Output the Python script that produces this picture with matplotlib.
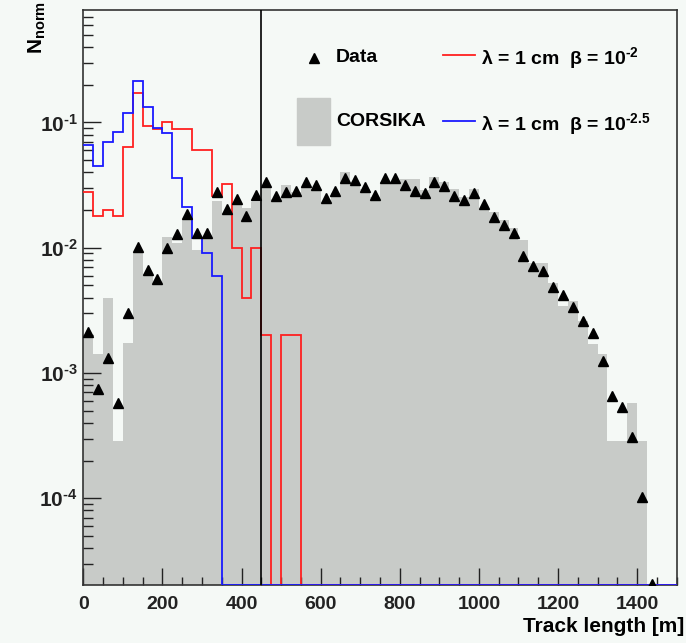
import numpy as np
import matplotlib
matplotlib.use("Agg")
import matplotlib.pyplot as plt
from matplotlib.patches import Rectangle
from matplotlib.lines import Line2D
from matplotlib.ticker import LogLocator, MultipleLocator, FuncFormatter

plt.rcParams["font.family"] = ["Liberation Sans", "DejaVu Sans"]
plt.rcParams["font.weight"] = "bold"
plt.rcParams["mathtext.fontset"] = "custom"
plt.rcParams["mathtext.rm"] = "Liberation Sans:bold"
plt.rcParams["mathtext.bf"] = "Liberation Sans:bold"
plt.rcParams["mathtext.it"] = "Liberation Sans:bold"
plt.rcParams["axes.unicode_minus"] = False

# 25 m bins of track length
bin_width = 25
x_max = 1500

# CORSIKA simulation (normalised)
corsika = [0.00196, 0.00143, 0.00394, 0.000288, 0.00172, 0.0092, 0.0062, 0.0050,
           0.0122, 0.0109, 0.0171, 0.0096, 0.0122, 0.0236, 0.0188, 0.0226,
           0.0206, 0.0232, 0.0303, 0.0247, 0.0314, 0.0279, 0.0303, 0.0297,
           0.0226, 0.0271, 0.0401, 0.0326, 0.0297, 0.0254, 0.0334, 0.0334,
           0.0353, 0.0353, 0.0288, 0.0364, 0.0336, 0.0297, 0.0255, 0.0292,
           0.0200, 0.0194, 0.0166, 0.0143, 0.0116, 0.0076, 0.0075, 0.0052,
           0.00342, 0.00377, 0.0026, 0.0017, 0.00143, 0.000286, 0.000286,
           0.000571, 0.000286]

# measured data (normalised)
data = [0.00211, 0.000745, 0.00131, 0.000578, 0.00302, 0.0102, 0.0067, 0.0056,
        0.0100, 0.0129, 0.0185, 0.0130, 0.0131, 0.0279, 0.0203, 0.0247,
        0.0180, 0.0263, 0.0332, 0.0258, 0.0279, 0.0284, 0.0332, 0.0318,
        0.0250, 0.0284, 0.0357, 0.0347, 0.0306, 0.0265, 0.0359, 0.0359,
        0.0316, 0.0284, 0.0271, 0.0334, 0.0310, 0.0258, 0.0240, 0.0274,
        0.0223, 0.0177, 0.0151, 0.0130, 0.00857, 0.00713, 0.00654, 0.00482,
        0.00419, 0.00335, 0.00259, 0.00207, 0.00124, 0.000654, 0.000531,
        0.000306, 0.000102, 0.0000205]

# signal, lambda = 1 cm, beta = 1e-2
sig_red = [0.028, 0.018, 0.020, 0.018, 0.064, 0.172, 0.094, 0.088, 0.100,
           0.088, 0.088, 0.060, 0.060, 0.026, 0.032, 0.010, 0.004, 0.010,
           0.002, 0.0, 0.002, 0.002] + [0.0] * 38

# signal, lambda = 1 cm, beta = 1e-2.5
sig_blue = [0.0659, 0.045, 0.070, 0.084, 0.120, 0.215, 0.132, 0.0896,
            0.0817, 0.0361, 0.0212, 0.0120, 0.0091, 0.0060] + [0.0] * 46

cut_length = 450

y_min, y_max = 2.02e-5, 0.79
bg = "#f5f9f6"
grey = "#c8cbc8"
HY = "\u2010"  # short hyphen for exponents

fig = plt.figure(figsize=(6.86, 6.43), dpi=100, facecolor=bg)
ax = fig.add_axes([83.3 / 686, 1 - 585.3 / 643, (676.7 - 83.3) / 686, (585.3 - 10) / 643])
ax.set_facecolor(bg)
ax.set_yscale("log")

edges_sim = np.arange(len(corsika) + 1) * bin_width
ax.stairs(corsika, edges_sim, fill=True, color=grey, baseline=1e-7, zorder=1)

edges = np.arange(0, x_max + bin_width, bin_width)
red = np.where(np.array(sig_red) > 0, sig_red, y_min)
blue = np.where(np.array(sig_blue) > 0, sig_blue, y_min)
ax.stairs(red, edges, color="#ff2020", lw=1.3, baseline=None, zorder=3)
ax.stairs(blue, edges, color="#1a1aff", lw=1.3, baseline=None, zorder=4)

centers = (np.arange(len(data)) + 0.5) * bin_width
ax.plot(centers, data, "^", color="black", ms=7.5, zorder=5)

ax.axvline(cut_length, color="black", lw=1.2, zorder=6)

ax.set_xlim(0, x_max)
ax.set_ylim(y_min, y_max)
ax.xaxis.set_major_locator(MultipleLocator(200))
ax.xaxis.set_minor_locator(MultipleLocator(50))
ax.yaxis.set_major_locator(LogLocator(base=10, numticks=10))
ax.yaxis.set_minor_locator(LogLocator(base=10, subs=np.arange(2, 10), numticks=20))
ax.yaxis.set_major_formatter(FuncFormatter(
    lambda v, pos: r"10$^{\mathdefault{%s%d}}$" % (HY, -round(np.log10(v)))))
ax.tick_params(which="both", direction="in", top=False, right=False,
               colors="#222222", width=1.0, labelsize=14)
ax.tick_params(axis="x", which="major", length=12, pad=8)
ax.tick_params(axis="x", which="minor", length=5.5)
ax.tick_params(axis="y", which="major", length=13, pad=4, labelsize=15)
ax.tick_params(axis="y", which="minor", length=7)
for s in ax.spines.values():
    s.set_linewidth(1.2)
    s.set_color("#333333")

# legend drawn by hand in pixel positions
def fx(px):
    return px / 686

def fy(py):
    return 1 - py / 643

fig.add_artist(Line2D([fx(314)], [fy(58)], marker="^", color="black", ms=7.5))
fig.text(fx(336), fy(58), "Data", fontsize=14, va="center", ha="left")
fig.add_artist(Rectangle((fx(297), fy(145)), fx(330) - fx(297), fy(98) - fy(145),
                         color=grey, transform=fig.transFigure))
fig.text(fx(336), fy(122), "CORSIKA", fontsize=14, va="center", ha="left")
fig.add_artist(Line2D([fx(443), fx(475)], [fy(55), fy(55)], color="#ff2020", lw=1.3))
fig.add_artist(Line2D([fx(443), fx(475)], [fy(121), fy(121)], color="#1a1aff", lw=1.3))
fig.text(fx(481), fy(58), r"λ = 1 cm  β = 10$^{\mathdefault{%s2}}$" % HY, fontsize=14,
         va="center", ha="left")
fig.text(fx(481), fy(124), r"λ = 1 cm  β = 10$^{\mathdefault{%s2.5}}$" % HY, fontsize=14,
         va="center", ha="left")

fig.text(fx(684), fy(627), "Track length [m]", fontsize=15, ha="right", va="center")
fig.text(fx(37), fy(1), r"N$_{\mathdefault{norm}}$", fontsize=15, rotation=90,
         ha="center", va="top")

fig.savefig("out.png", dpi=100, facecolor=bg)
